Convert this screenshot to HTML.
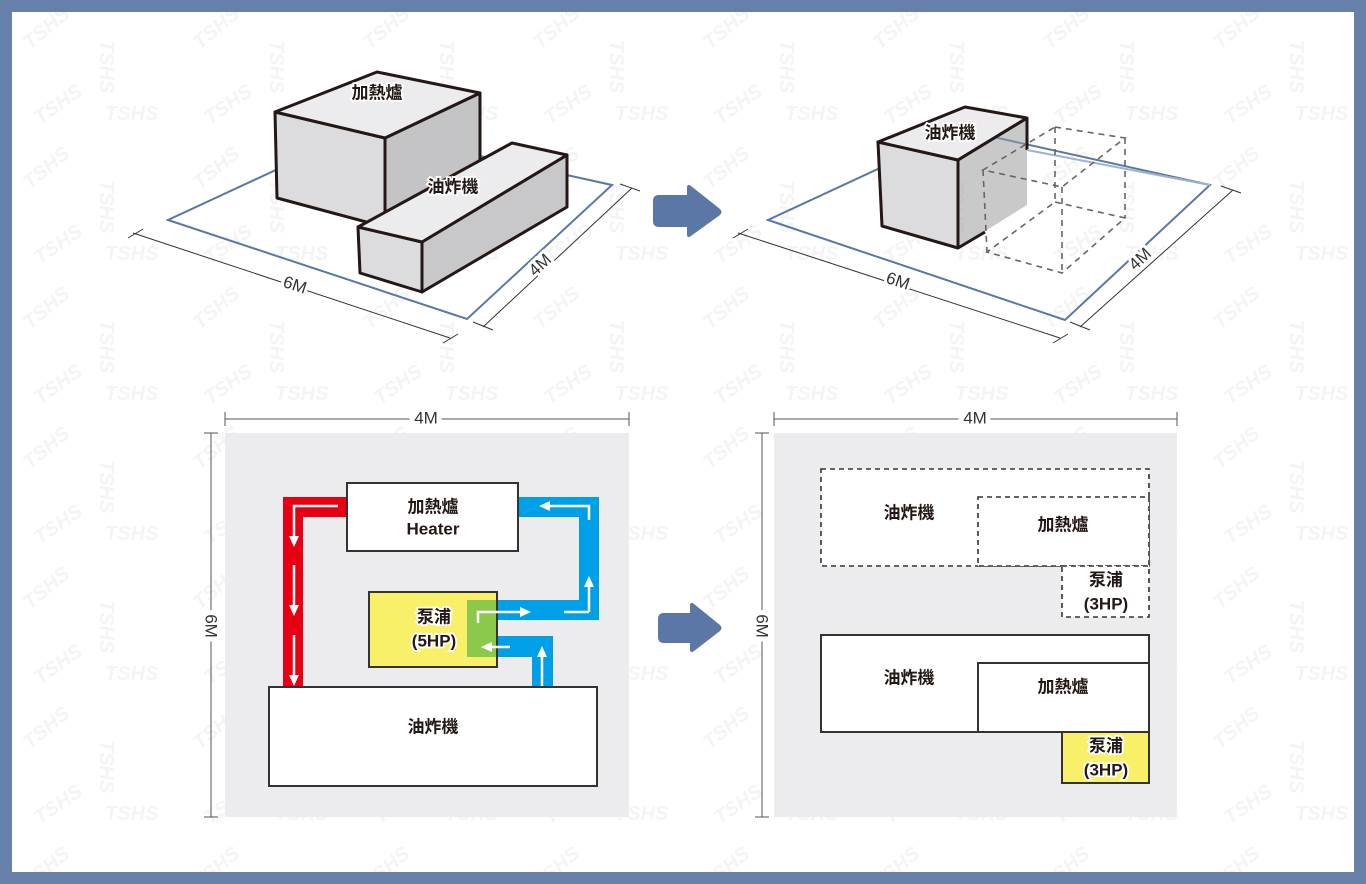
<!DOCTYPE html>
<html><head><meta charset="utf-8"><style>
html,body{margin:0;padding:0;width:1366px;height:884px;overflow:hidden;background:#6680aa}
svg{display:block}
.lb{font-family:"Liberation Sans","Noto Sans CJK TC",sans-serif;font-weight:bold;font-size:17px;fill:#231815;stroke:#fff;stroke-width:3.5px;paint-order:stroke;text-anchor:middle;dominant-baseline:central}
.dim{font-family:"Liberation Sans",sans-serif;font-size:17px;fill:#333;stroke:#fff;stroke-width:6px;paint-order:stroke;text-anchor:middle;dominant-baseline:central}
.wm{font-family:"Liberation Sans",sans-serif;font-weight:bold;font-style:italic;font-size:20px;fill:#f4f4f4}
</style></head><body>
<svg width="1366" height="884" viewBox="0 0 1366 884" xmlns="http://www.w3.org/2000/svg">
<defs>
<pattern id="wmp" x="0" y="0" width="170" height="140" patternUnits="userSpaceOnUse">
<text class="wm" x="30" y="50" transform="rotate(-40 30 50)">TSHS</text>
<text class="wm" x="100" y="40" transform="rotate(90 100 40)">TSHS</text>
<text class="wm" x="40" y="125" transform="rotate(-35 40 125)">TSHS</text>
<text class="wm" x="105" y="120">TSHS</text>
</pattern>
</defs>
<rect x="12" y="12" width="1342" height="860" fill="#fff"/>
<rect x="12" y="12" width="1342" height="860" fill="url(#wmp)"/>

<!-- ========== TOP LEFT ========== -->
<polygon points="168,220 467,319 612,185 362,130" fill="none" stroke="#5b77a6" stroke-width="2"/>
<g stroke="#333" stroke-width="1" fill="none">
<line x1="133" y1="233" x2="450" y2="338"/>
<line x1="128" y1="238" x2="143" y2="229"/>
<line x1="443" y1="343" x2="458" y2="334"/>
<line x1="632" y1="188" x2="483" y2="327"/>
<line x1="620" y1="184" x2="640" y2="191"/>
<line x1="473" y1="322" x2="493" y2="330"/>
</g>
<text class="dim" x="295" y="285" transform="rotate(18.3 295 285)">6M</text>
<text class="dim" x="540" y="265" transform="rotate(-43 540 265)">4M</text>
<g stroke="#231815" stroke-width="3" stroke-linejoin="round">
<polygon points="275,112 385,138 385,227 277,198" fill="#dcdcde"/>
<polygon points="385,138 480,93 480,182 385,227" fill="#c4c4c6"/>
<polygon points="275,112 377,72 480,93 385,138" fill="#ececee"/>
</g>
<g stroke="#231815" stroke-width="3" stroke-linejoin="round">
<polygon points="358,227 422,242 422,292 360,273" fill="#dcdcde"/>
<polygon points="422,242 567,155 567,207 422,292" fill="#c8c8ca"/>
<polygon points="358,227 512,143 567,155 422,242" fill="#ececee"/>
</g>
<text class="lb" x="377" y="93">加熱爐</text>
<text class="lb" x="453" y="187">油炸機</text>

<!-- ========== TOP RIGHT ========== -->
<polygon points="768,220 1065,320 1210,185 962,130" fill="none" stroke="#5b77a6" stroke-width="2"/>
<g stroke="#333" stroke-width="1" fill="none">
<line x1="738" y1="233" x2="1060" y2="338"/>
<line x1="733" y1="238" x2="748" y2="229"/>
<line x1="1053" y1="343" x2="1068" y2="334"/>
<line x1="1233" y1="190" x2="1080" y2="327"/>
<line x1="1221" y1="186" x2="1241" y2="193"/>
<line x1="1070" y1="322" x2="1090" y2="330"/>
</g>
<text class="dim" x="898" y="281" transform="rotate(18.3 898 281)">6M</text>
<text class="dim" x="1140" y="259" transform="rotate(-43 1140 259)">4M</text>
<g stroke="#231815" stroke-width="3" stroke-linejoin="round">
<polygon points="878,142 958,160 958,248 882,226" fill="#dcdcde"/>
<polygon points="878,142 965,107 1027,118 958,160" fill="#ececee"/>
</g>
<polygon points="958,160 1027,118 1027,205 958,248" fill="#9d9d9f" fill-opacity="0.55"/>
<g fill="none" stroke="#231815" stroke-width="3" stroke-linejoin="round">
<line x1="958" y1="160" x2="958" y2="248"/>
<line x1="958" y1="160" x2="1027" y2="118"/>
<line x1="1027" y1="118" x2="1027" y2="150"/>
<line x1="958" y1="248" x2="985" y2="232"/>
</g>
<line x1="1027" y1="150" x2="1210" y2="185" stroke="#9fb2d2" stroke-width="2"/>
<g fill="none" stroke="#666" stroke-width="1.6" stroke-dasharray="6,5">
<polyline points="1055,127 1125,138 1062,187 983,170 1055,127"/>
<polyline points="1055,202 1125,218 1062,273 987,252 1055,202"/>
<line x1="1055" y1="127" x2="1055" y2="202"/>
<line x1="1125" y1="138" x2="1125" y2="218"/>
<line x1="1062" y1="187" x2="1062" y2="273"/>
<line x1="983" y1="170" x2="987" y2="252"/>
</g>
<text class="lb" x="950" y="133">油炸機</text>

<!-- arrows -->
<path d="M659,195 L687,195 L687,188 Q687,183 691,186 L720,209 Q723,212 720,215 L691,236 Q687,239 687,234 L687,227 L659,227 Q653,227 653,221 L653,201 Q653,195 659,195 Z" fill="#5b77a6"/>
<path d="M664,613 L690,613 L690,606 Q690,601 694,604 L720,625 Q723,628 720,631 L694,651 Q690,654 690,649 L690,643 L664,643 Q658,643 658,637 L658,619 Q658,613 664,613 Z" fill="#5b77a6"/>

<!-- ========== BOTTOM LEFT ========== -->
<rect x="225" y="433" width="404" height="384" fill="#ececee"/>
<g stroke="#555" stroke-width="1" fill="none">
<line x1="225" y1="419" x2="629" y2="419"/>
<line x1="225" y1="412" x2="225" y2="426"/>
<line x1="629" y1="412" x2="629" y2="426"/>
<line x1="211" y1="433" x2="211" y2="817"/>
<line x1="204" y1="433" x2="218" y2="433"/>
<line x1="204" y1="817" x2="218" y2="817"/>
</g>
<text class="dim" x="426" y="418" style="stroke-width:10px">4M</text>
<text class="dim" x="211" y="626" transform="rotate(90 211 626)" style="stroke-width:10px">6M</text>
<path d="M283,497 L347,497 L347,517 L303,517 L303,688 L283,688 Z" fill="#e60012"/>
<path d="M518,497 L599,497 L599,620 L497,620 L497,600 L579,600 L579,517 L518,517 Z" fill="#00a0e9"/>
<path d="M497,636 L553,636 L553,688 L532,688 L532,657 L497,657 Z" fill="#00a0e9"/>
<rect x="347" y="483" width="171" height="68" fill="#fff" stroke="#333" stroke-width="2"/>
<rect x="369" y="592" width="128" height="75" fill="#f8f068" stroke="#333" stroke-width="2"/>
<rect x="467" y="600" width="30" height="57" fill="#8cc84b"/>
<line x1="497" y1="592" x2="497" y2="667" stroke="#333" stroke-width="2"/>
<g stroke="#fff" stroke-width="2.5" fill="none">
<polyline points="338,506 294,506 294,538"/>
<line x1="294" y1="565" x2="294" y2="607"/>
<line x1="294" y1="635" x2="294" y2="677"/>
<polyline points="589,520 589,506 548,506"/>
<line x1="589" y1="612" x2="589" y2="585"/>
<line x1="564" y1="612" x2="589" y2="612"/>
<polyline points="478,623 478,612 522,612"/>
<line x1="510" y1="647" x2="490" y2="647"/>
<line x1="542" y1="687" x2="542" y2="655"/>
</g>
<g fill="#fff">
<polygon points="289,536 299,536 294,547"/>
<polygon points="289,605 299,605 294,616"/>
<polygon points="289,675 299,675 294,686"/>
<polygon points="550,501 550,511 539,506"/>
<polygon points="584,587 594,587 589,576"/>
<polygon points="520,607 520,617 531,612"/>
<polygon points="492,642 492,652 481,647"/>
<polygon points="537,657 547,657 542,646"/>
</g>
<rect x="269" y="687" width="328" height="99" fill="#fff" stroke="#333" stroke-width="2"/>
<text class="lb" x="433" y="507">加熱爐</text>
<text class="lb" x="433" y="529">Heater</text>
<text class="lb" x="434" y="617">泵浦</text>
<text class="lb" x="434" y="641">(5HP)</text>
<text class="lb" x="433" y="727">油炸機</text>

<!-- ========== BOTTOM RIGHT ========== -->
<rect x="774" y="433" width="403" height="384" fill="#ececee"/>
<g stroke="#555" stroke-width="1" fill="none">
<line x1="774" y1="419" x2="1177" y2="419"/>
<line x1="774" y1="412" x2="774" y2="426"/>
<line x1="1177" y1="412" x2="1177" y2="426"/>
<line x1="762" y1="433" x2="762" y2="817"/>
<line x1="755" y1="433" x2="769" y2="433"/>
<line x1="755" y1="817" x2="769" y2="817"/>
</g>
<text class="dim" x="975" y="418" style="stroke-width:10px">4M</text>
<text class="dim" x="762" y="626" transform="rotate(90 762 626)" style="stroke-width:10px">6M</text>
<g fill="#fff" stroke="#333" stroke-width="1.6" stroke-dasharray="5,4">
<rect x="821" y="469" width="328" height="97"/>
<rect x="978" y="497" width="171" height="69"/>
<rect x="1062" y="566" width="87" height="51"/>
</g>
<g stroke="#333" stroke-width="2">
<rect x="821" y="635" width="328" height="97" fill="#fff"/>
<rect x="978" y="663" width="171" height="69" fill="#fff"/>
<rect x="1062" y="732" width="87" height="51" fill="#f8f068"/>
</g>
<text class="lb" x="909" y="513">油炸機</text>
<text class="lb" x="1063" y="525">加熱爐</text>
<text class="lb" x="1106" y="580">泵浦</text>
<text class="lb" x="1106" y="604">(3HP)</text>
<text class="lb" x="909" y="678">油炸機</text>
<text class="lb" x="1063" y="687">加熱爐</text>
<text class="lb" x="1106" y="746">泵浦</text>
<text class="lb" x="1106" y="770">(3HP)</text>
</svg>
</body></html>
